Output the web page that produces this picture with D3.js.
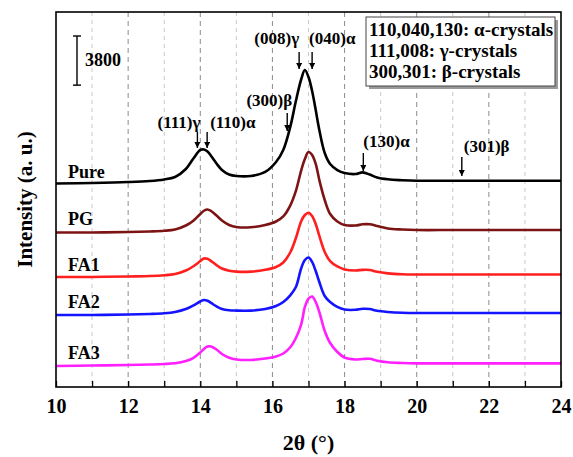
<!DOCTYPE html>
<html>
<head>
<meta charset="utf-8">
<script src="https://cdn.jsdelivr.net/npm/d3@7"></script>
<style>
  html, body { margin: 0; padding: 0; background: #fff; }
  svg { display: block; }
  text { font-family: "Liberation Serif", "Times New Roman", serif; font-weight: bold; fill: #000; }
</style>
</head>
<body>
<svg id="chart" width="573" height="457"></svg>
<script>
// Diffraction angle (2θ, degrees) at which each pattern was sampled
const angles = [10, 11, 12, 12.6, 13.0, 13.3, 13.6, 13.8, 14.0, 14.1, 14.2, 14.3, 14.45, 14.6, 14.8,
  15.0, 15.4, 15.8, 16.1, 16.3, 16.5, 16.65, 16.8, 16.9, 17.0, 17.1, 17.2, 17.3, 17.45, 17.6,
  17.8, 18.0, 18.3, 18.5, 18.7, 18.9, 19.2, 19.6, 20, 21, 22, 23, 24];

// Intensity above each pattern's own baseline (counts)
const pureCounts = [240, 280, 350, 430, 550, 740, 1360, 2130, 2830, 2870, 2710, 2360, 1780, 1280, 930,
  820, 820, 1130, 1900, 2830, 4680, 6620, 8320, 9010, 8470, 7390, 5920, 4380, 2600, 1750,
  1280, 1050, 970, 1100, 930, 700, 560, 490, 450, 450, 450, 450, 450];
const pgCounts = [150, 150, 190, 230, 280, 380, 690, 1040, 1580, 1830, 1930, 1810, 1460, 1080, 730,
  570, 550, 730, 1000, 1390, 2270, 3360, 4980, 5830, 6370, 6140, 5450, 4210, 2660, 1580,
  1000, 730, 690, 780, 780, 650, 460, 380, 340, 340, 340, 340, 340];
const fa1Counts = [210, 210, 250, 280, 340, 440, 710, 1020, 1440, 1640, 1610, 1440, 1130, 860, 690,
  620, 620, 760, 980, 1330, 2140, 3220, 4540, 5000, 5180, 4920, 4310, 3380, 2140, 1440,
  1020, 790, 710, 760, 750, 610, 490, 420, 400, 400, 400, 400, 400];
const fa2Counts = [170, 170, 210, 250, 300, 400, 630, 900, 1210, 1330, 1270, 1100, 830, 630, 530,
  510, 510, 630, 860, 1170, 1710, 2330, 3800, 4420, 4610, 4270, 3570, 2720, 1640, 1170,
  790, 590, 570, 650, 630, 490, 400, 340, 320, 320, 320, 320, 320];
const fa3Counts = [120, 160, 200, 240, 280, 340, 510, 740, 1170, 1440, 1630, 1630, 1400, 1050, 760,
  630, 590, 700, 860, 1090, 1590, 2290, 3370, 4690, 5340, 5500, 5070, 4300, 2830, 1900,
  1210, 780, 630, 670, 680, 530, 410, 360, 330, 330, 330, 330, 330];

const sampleNames = ["Pure", "PG", "FA1", "FA2", "FA3"];
// Vertical stacking offset of each pattern (counts)
const stackOffsets = [15500, 11800, 8300, 5400, 1500];
const scaleBarCounts = 3800;

const xTickValues = [10, 11, 12, 13, 14, 15, 16, 17, 18, 19, 20, 21, 22, 23, 24];
const xTickLabels = ["10", "12", "14", "16", "18", "20", "22", "24"];

const legendLines = ["110,040,130: α-crystals", "111,008: γ-crystals", "300,301: β-crystals"];

// Reflections marked on the Pure pattern
const reflectionNames = ["(111)γ", "(110)α", "(300)β", "(008)γ", "(040)α", "(130)α", "(301)β"];
const reflectionAngles = [13.92, 14.19, 16.41, 16.74, 17.1, 18.52, 21.25];

// ---- styling / layout ----
const lineColors = ["#000000", "#7d1414", "#ff1f1f", "#1414ff", "#ff1fff"];
const plot = { left: 56, top: 12, right: 561, bottom: 387 };
// label placement per reflection: text anchor, text baseline, arrow top, arrow tip
const reflectionLayout = [
  { anchor: "end",   dx: 3,  ty: 128, a0: 132, a1: 148 },
  { anchor: "start", dx: 3,  ty: 128, a0: 132, a1: 148 },
  { anchor: "end",   dx: 5,  ty: 106, a0: 113, a1: 131 },
  { anchor: "end",   dx: 0,  ty: 44,  a0: 52,  a1: 69 },
  { anchor: "start", dx: -3, ty: 44,  a0: 52,  a1: 69 },
  { anchor: "start", dx: 0,  ty: 147, a0: 153, a1: 171 },
  { anchor: "start", dx: 2,  ty: 152, a0: 157, a1: 176 }
];

const svg = d3.select("#chart");

const x = d3.scaleLinear().domain([10, 24]).range([plot.left, plot.right]);
const y = d3.scaleLinear().domain([0, 29000]).range([plot.bottom, plot.top]);

// vertical grid lines at every integer angle
const gridAngles = xTickValues.filter(v => v > 10 && v < 24);
svg.append("g").selectAll("line").data(gridAngles).join("line")
  .attr("x1", d => x(d)).attr("x2", d => x(d))
  .attr("y1", plot.top).attr("y2", plot.bottom)
  .attr("stroke", d => d % 2 === 0 ? "#8c8c8c" : "#c8c8c8")
  .attr("stroke-width", 1)
  .attr("stroke-dasharray", d => d % 2 === 0 ? "5,4" : "4,4");

// patterns
const series = [pureCounts, pgCounts, fa1Counts, fa2Counts, fa3Counts];
const line = d3.line().curve(d3.curveCatmullRom.alpha(0.5));
series.forEach((vals, i) => {
  const pts = angles.map((a, j) => [x(a), y(vals[j] + stackOffsets[i])]);
  svg.append("path")
    .attr("d", line(pts))
    .attr("fill", "none")
    .attr("stroke", lineColors[i])
    .attr("stroke-width", 2.6)
    .attr("stroke-linejoin", "round");
  svg.append("text")
    .attr("x", 68)
    .attr("y", y(stackOffsets[i]) - 9)
    .attr("font-size", 18)
    .text(sampleNames[i]);
});

// x axis with inward ticks
const labelSet = new Set(xTickLabels);
const xAxis = d3.axisBottom(x)
  .tickValues(xTickValues)
  .tickSize(-6)
  .tickPadding(12)
  .tickFormat(d => labelSet.has(String(d)) ? String(d) : "");
const gx = svg.append("g").attr("transform", `translate(0,${plot.bottom})`).call(xAxis);
gx.select(".domain").remove();
gx.selectAll(".tick line").attr("stroke", "#000").attr("stroke-width", 1.3);
gx.selectAll(".tick text")
  .attr("font-size", 20)
  .attr("font-family", "Liberation Serif, Times New Roman, serif")
  .attr("font-weight", "bold")
  .attr("fill", "#000");

// frame
svg.append("rect")
  .attr("x", plot.left).attr("y", plot.top)
  .attr("width", plot.right - plot.left).attr("height", plot.bottom - plot.top)
  .attr("fill", "none").attr("stroke", "#000").attr("stroke-width", 1.6);

// axis titles
svg.append("text")
  .attr("x", (plot.left + plot.right) / 2)
  .attr("y", 450)
  .attr("text-anchor", "middle")
  .attr("font-size", 22)
  .text("2θ (°)");
svg.append("text")
  .attr("transform", `translate(32,${(plot.top + plot.bottom) / 2}) rotate(-90)`)
  .attr("text-anchor", "middle")
  .attr("font-size", 21)
  .text("Intensity (a. u.)");

// intensity scale bar
const barX = 77, barTop = 36;
const barLen = y(0) - y(scaleBarCounts);
const bar = svg.append("g").attr("stroke", "#000").attr("stroke-width", 1.4);
bar.append("line").attr("x1", barX).attr("x2", barX).attr("y1", barTop).attr("y2", barTop + barLen);
bar.append("line").attr("x1", barX - 4).attr("x2", barX + 4).attr("y1", barTop).attr("y2", barTop);
bar.append("line").attr("x1", barX - 4).attr("x2", barX + 4).attr("y1", barTop + barLen).attr("y2", barTop + barLen);
svg.append("text").attr("x", 85).attr("y", 66).attr("font-size", 18).text(String(scaleBarCounts));

// arrowhead
svg.append("defs").append("marker")
  .attr("id", "head")
  .attr("viewBox", "0 0 10 10")
  .attr("refX", 10).attr("refY", 5)
  .attr("markerWidth", 6).attr("markerHeight", 6)
  .attr("markerUnits", "userSpaceOnUse")
  .attr("orient", "auto")
  .append("path").attr("d", "M0,0 L10,5 L0,10 Z").attr("fill", "#000");

// reflection markers
reflectionNames.forEach((name, i) => {
  const L = reflectionLayout[i];
  const ax = x(reflectionAngles[i]);
  svg.append("line")
    .attr("x1", ax).attr("x2", ax)
    .attr("y1", L.a0).attr("y2", L.a1)
    .attr("stroke", "#000").attr("stroke-width", 1.4)
    .attr("marker-end", "url(#head)");
  svg.append("text")
    .attr("x", ax + L.dx)
    .attr("y", L.ty)
    .attr("text-anchor", L.anchor)
    .attr("font-size", 17)
    .text(name);
});

// legend box with drop shadow
const box = { x: 366, y: 17, w: 189, h: 69 };
svg.append("rect").attr("x", box.x + 3).attr("y", box.y + 3).attr("width", box.w).attr("height", box.h)
  .attr("fill", "#9a9a9a");
svg.append("rect").attr("x", box.x).attr("y", box.y).attr("width", box.w).attr("height", box.h)
  .attr("fill", "#fff").attr("stroke", "#444").attr("stroke-width", 1);
legendLines.forEach((t, i) => {
  svg.append("text")
    .attr("x", box.x + 3)
    .attr("y", box.y + 19 + i * 21)
    .attr("font-size", 19)
    .text(t);
});
</script>
</body>
</html>
